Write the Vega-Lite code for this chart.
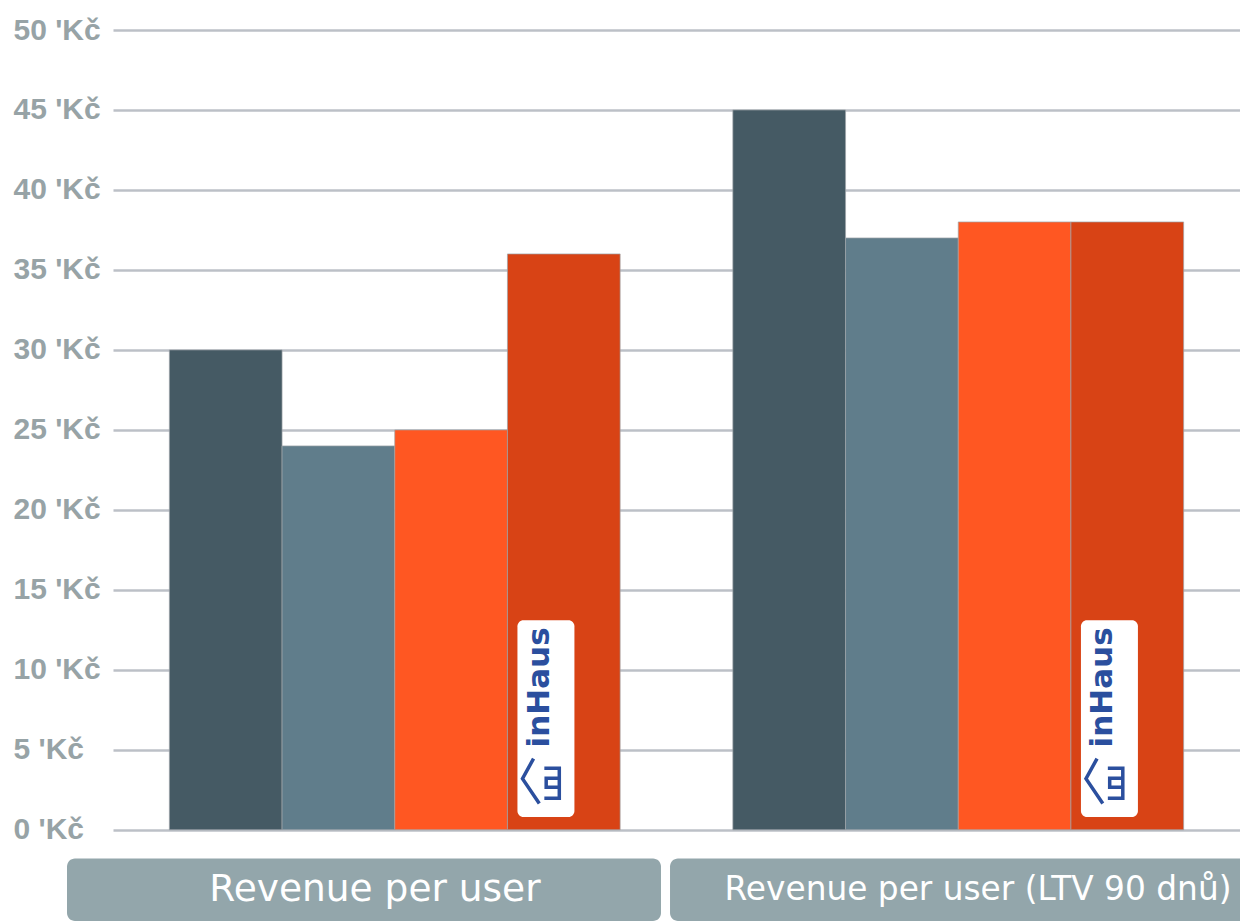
{
  "$schema": "https://vega.github.io/schema/vega-lite/v6.json",
  "autosize": {"type": "none"},
  "padding": {"left": 113, "top": 30, "right": 0, "bottom": 2},
  "width": 1127,
  "height": 891,
  "background": "white",
  "config": {"view": {"stroke": null}},
  "data": {
    "values": [
      {"metric": "Revenue per user", "series": "1", "value": 30},
      {"metric": "Revenue per user", "series": "2", "value": 24},
      {"metric": "Revenue per user", "series": "3", "value": 25},
      {"metric": "Revenue per user", "series": "4", "value": 36},
      {"metric": "Revenue per user (LTV 90 dnů)", "series": "1", "value": 45},
      {"metric": "Revenue per user (LTV 90 dnů)", "series": "2", "value": 37},
      {"metric": "Revenue per user (LTV 90 dnů)", "series": "3", "value": 38},
      {"metric": "Revenue per user (LTV 90 dnů)", "series": "4", "value": 38}
    ]
  },
  "resolve": {"scale": {"x": "independent", "xOffset": "independent"}, "axis": {"x": "independent"}},
  "layer": [
    {
      "mark": {"type": "bar", "stroke": "#9ea4a8", "strokeWidth": 1, "strokeOpacity": 0.7},
      "encoding": {
        "x": {"field": "metric", "type": "nominal", "axis": null,
              "scale": {"type": "band", "domain": ["Revenue per user", "Revenue per user (LTV 90 dnů)"], "paddingInner": 0.2, "paddingOuter": 0.1}},
        "xOffset": {"field": "series", "type": "nominal", "scale": {"domain": ["1", "2", "3", "4"], "paddingInner": 0, "paddingOuter": 0}},
        "y": {"field": "value", "type": "quantitative",
              "scale": {"domain": [-5.7, 50], "nice": false, "zero": false},
              "axis": {"values": [0, 5, 10, 15, 20, 25, 30, 35, 40, 45, 50], "labelExpr": "datum.value + \" 'Kč\"",
                       "title": null, "domain": false, "ticks": false, "labelAlign": "left", "labelPadding": 100,
                       "labelFont": "Liberation Sans", "labelFontWeight": "bold", "labelFontSize": 30, "labelColor": "#97a3a6",
                       "gridColor": "#bcc0c7", "gridWidth": 2.5, "labelOverlap": false}},
        "y2": {"datum": 0},
        "color": {"field": "series", "type": "nominal", "legend": null,
                  "scale": {"domain": ["1", "2", "3", "4"], "range": ["#455a64", "#607d8b", "#ff5722", "#d84315"]}}
      }
    },
    {
      "transform": [{"filter": "datum.series === '4'"}],
      "mark": {"type": "bar", "color": "white", "cornerRadius": 6},
      "encoding": {
        "x": {"field": "metric", "type": "nominal", "axis": null,
              "scale": {"type": "band", "domain": ["Revenue per user", "Revenue per user (LTV 90 dnů)"], "paddingInner": 0.2, "paddingOuter": 0.1}},
        "xOffset": {"field": "series", "type": "nominal",
                    "scale": {"domain": ["1", "2", "3", "4"], "paddingInner": 0.5, "paddingOuter": 0.228, "align": 0.12}},
        "y": {"datum": 0.8, "type": "quantitative"},
        "y2": {"datum": 13.1}
      }
    },
    {
      "transform": [{"filter": "datum.series === '4'"}],
      "mark": {"type": "text", "text": "inHaus", "angle": 270, "font": "DejaVu Sans", "fontWeight": "bold", "fontSize": 31, "color": "#2b4f9e", "align": "center", "baseline": "middle", "dy": -28},
      "encoding": {
        "x": {"field": "metric", "type": "nominal", "axis": null,
              "scale": {"type": "band", "domain": ["Revenue per user", "Revenue per user (LTV 90 dnů)"], "paddingInner": 0.2, "paddingOuter": 0.1}},
        "xOffset": {"field": "series", "type": "nominal",
                    "scale": {"domain": ["1", "2", "3", "4"], "paddingInner": 0.5, "paddingOuter": 0.228, "align": 0.12}},
        "y": {"datum": 8.9, "type": "quantitative"}
      }
    },
    {
      "transform": [{"filter": "datum.series === '4'"}],
      "mark": {"type": "point", "filled": false, "stroke": "#2b4f9e", "strokeWidth": 3.5, "opacity": 1, "size": 2116,
               "shape": "M -1.49 -0.94 L -1.97 -0.07 L -1.24 1.01 M -1.02 -0.52 L -0.37 -0.52 L -0.37 0.78 L -1.02 0.78 M -0.94 -0.09 L -0.37 -0.09 L -0.37 0.3 L -0.94 0.3 Z"},
      "encoding": {
        "x": {"field": "metric", "type": "nominal", "axis": null,
              "scale": {"type": "band", "domain": ["Revenue per user", "Revenue per user (LTV 90 dnů)"], "paddingInner": 0.2, "paddingOuter": 0.1}},
        "xOffset": {"field": "series", "type": "nominal",
                    "scale": {"domain": ["1", "2", "3", "4"], "paddingInner": 0.5, "paddingOuter": 0.228, "align": 0.12}},
        "y": {"datum": 3.1, "type": "quantitative"}
      }
    },
    {
      "data": {"values": [{"metric": "Revenue per user"}, {"metric": "Revenue per user (LTV 90 dnů)"}]},
      "mark": {"type": "bar", "color": "#93a6ab", "cornerRadius": 8},
      "encoding": {
        "x": {"field": "metric", "type": "nominal", "axis": null,
              "scale": {"type": "band", "domain": ["Revenue per user", "Revenue per user (LTV 90 dnů)"], "range": [-46, 1151], "paddingInner": 0.015, "paddingOuter": 0}},
        "y": {"datum": -1.8, "type": "quantitative"},
        "y2": {"datum": -5.7}
      }
    },
    {
      "data": {"values": [{"metric": "Revenue per user"}, {"metric": "Revenue per user (LTV 90 dnů)"}]},
      "mark": {"type": "text", "font": "DejaVu Sans", "color": "white", "align": "center", "baseline": "middle", "dx": 11},
      "encoding": {
        "x": {"field": "metric", "type": "nominal", "axis": null,
              "scale": {"type": "band", "domain": ["Revenue per user", "Revenue per user (LTV 90 dnů)"], "range": [-46, 1151], "paddingInner": 0.015, "paddingOuter": 0}},
        "y": {"datum": -3.75, "type": "quantitative"},
        "text": {"field": "metric"},
        "size": {"field": "metric", "type": "nominal", "legend": null,
                 "scale": {"domain": ["Revenue per user", "Revenue per user (LTV 90 dnů)"], "range": [37.5, 32.8]}}
      }
    }
  ]
}
